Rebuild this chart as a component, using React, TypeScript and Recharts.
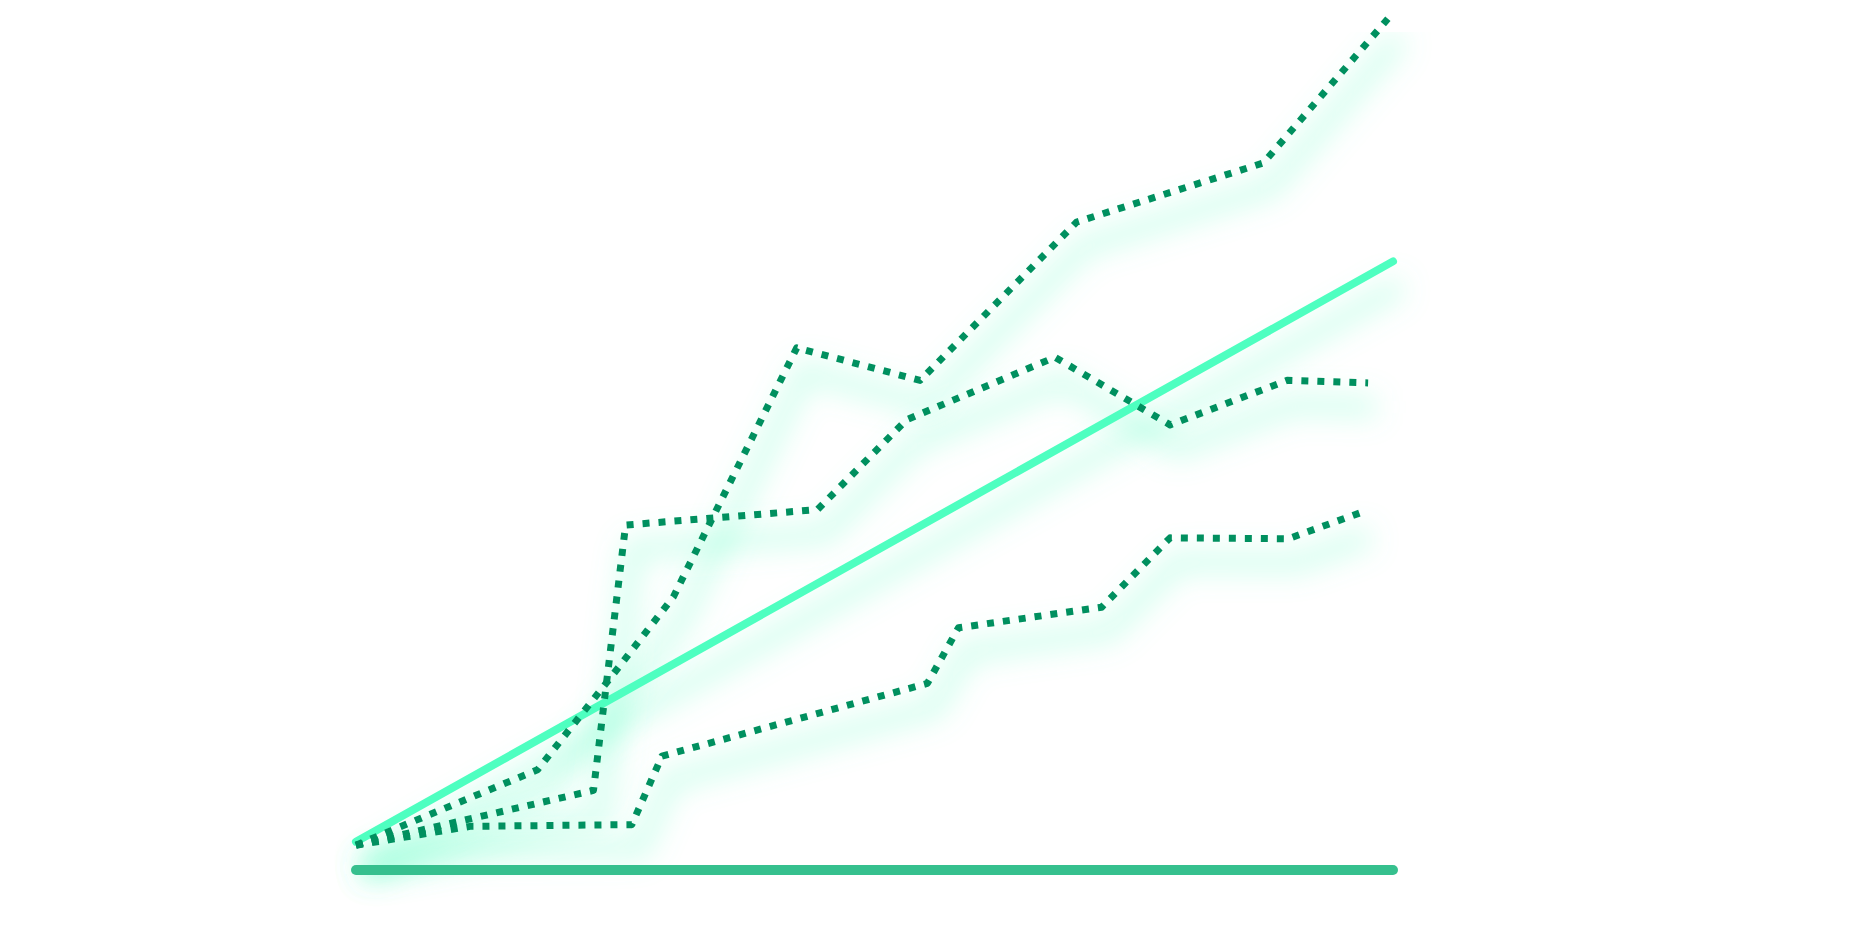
import React from 'react';
import { LineChart, Line, XAxis, YAxis } from 'recharts';

// x and y both on a 0..100 scale
const upperX = [0, 17.5, 24.5, 30.6, 42.5, 54.4, 69.5, 87.5, 99.9];
const upperY = [2.9, 11.7, 22.4, 31.9, 61.0, 57.2, 75.7, 82.6, 100];

const middleX = [0, 22.9, 26.0, 44.5, 53.1, 67.4, 78.5, 89.8, 97.6];
const middleY = [2.9, 9.3, 40.3, 42.1, 52.6, 59.9, 52.0, 57.2, 56.9];

const lowerX = [0, 11.0, 26.6, 29.5, 55.1, 58.1, 71.9, 78.5, 89.9, 97.0];
const lowerY = [2.9, 5.1, 5.3, 13.3, 21.8, 28.3, 30.7, 38.8, 38.7, 41.8];

const trendX = [0, 100];
const trendY = [3.3, 71.1];

const baseX = [0, 100];
const baseY = [0, 0];

const zip = (xs: number[], ys: number[]) => xs.map((x, i) => ({ x, y: ys[i] }));

const upper = zip(upperX, upperY);
const middle = zip(middleX, middleY);
const lower = zip(lowerX, lowerY);
const trend = zip(trendX, trendY);
const base = zip(baseX, baseY);

const dotted = [upper, middle, lower];

const App = () => {
  return (
    <div style={{ position: 'relative', width: 1836, height: 922 }}>
      <svg width={0} height={0} style={{ position: 'absolute' }}>
        <defs>
          <filter id="glow" filterUnits="userSpaceOnUse" x={0} y={0} width={1852} height={938}>
            <feGaussianBlur stdDeviation={14} />
            <feOffset dx={8} dy={24} />
          </filter>
        </defs>
      </svg>
      <LineChart width={1836} height={922} margin={{ top: 6, right: 451, left: 348, bottom: 60 }}>
        <XAxis dataKey="x" type="number" domain={[0, 100]} hide />
        <YAxis dataKey="y" type="number" domain={[0, 100]} hide />
        {[trend, ...dotted].map((d, i) => (
          <Line
            key={'glow' + i}
            data={d}
            dataKey="y"
            stroke="#6dffca"
            strokeOpacity={0.3}
            strokeWidth={20}
            strokeLinejoin="round"
            dot={false}
            activeDot={false}
            filter="url(#glow)"
            isAnimationActive={false}
          />
        ))}
        <Line data={base} dataKey="y" stroke="#36c08e" strokeWidth={10} strokeLinecap="round" dot={false} activeDot={false} isAnimationActive={false} />
        <Line data={trend} dataKey="y" stroke="#4effc0" strokeWidth={8} strokeLinecap="round" dot={false} activeDot={false} isAnimationActive={false} />
        {dotted.map((d, i) => (
          <Line
            key={'dot' + i}
            data={d}
            dataKey="y"
            stroke="#00905f"
            strokeWidth={7}
            strokeDasharray="7 9"
            strokeLinejoin="round"
            dot={false}
            activeDot={false}
            isAnimationActive={false}
          />
        ))}
      </LineChart>
    </div>
  );
};

export default App;
